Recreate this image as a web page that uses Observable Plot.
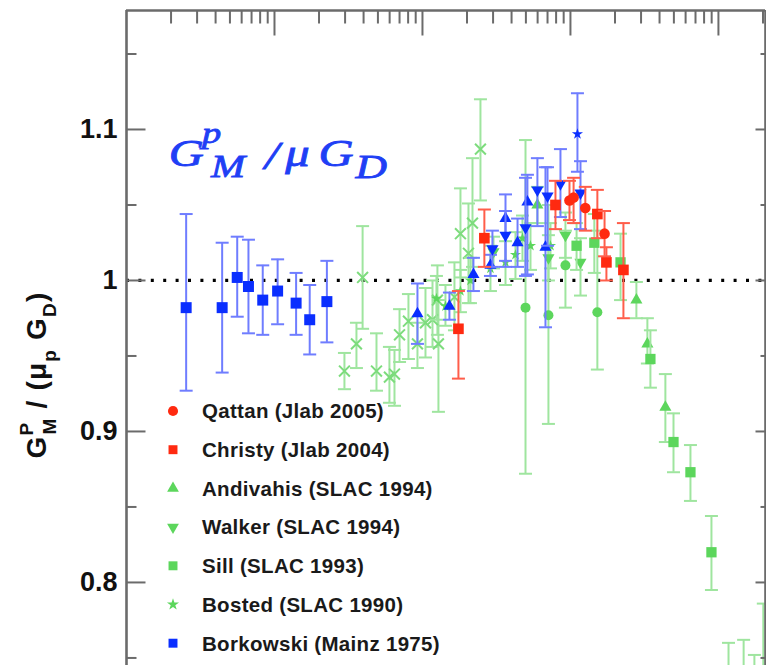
<!DOCTYPE html>
<html><head><meta charset="utf-8">
<script src="https://cdn.jsdelivr.net/npm/d3@7"></script>
<script src="https://cdn.jsdelivr.net/npm/@observablehq/plot@0.6"></script>
<style>
body{margin:0;background:#fff;}
#chart svg{display:block;overflow:hidden;}
</style></head><body><div id="chart"></div>
<script>
// ---- data: [Q2, ratio, low, high] ----
const qattan = [[9.85,1.053,1.040,1.066],[10.5,1.055,1.038,1.068],[12.6,1.048,1.033,1.062],[17.0,1.031,1.016,1.046]];
const christy = [[1.75,0.968,0.935,0.993],[2.62,1.028,1.009,1.047],[7.92,1.050,1.034,1.066],[15.2,1.044,1.028,1.060],[17.5,1.012,1.000,1.022],[22.8,1.007,0.975,1.038]];
const andivahis = [[5.98,1.050,1.038,1.062],[27.9,0.987,0.975,0.999],[33.1,0.958,0.945,0.975],[43.8,0.916,0.893,0.938]];
const walker = [[3.02,1.019,1.008,1.029],[7.10,1.015,1.000,1.030],[9.25,1.030,1.015,1.045],[11.69,1.012,0.990,1.028]];
const sill = [[11.0,1.023,1.007,1.038],[14.5,1.025,1.005,1.044],[21.8,1.012,0.987,1.031],[34.7,0.948,0.929,0.967],[49.7,0.893,0.873,0.912],[64.7,0.873,0.854,0.891],[89.7,0.820,0.795,0.844],[117,0.728,0.695,0.760],[148,0.725,0.689,0.762],[175,0.722,0.689,0.752],[201,0.735,0.682,0.786]];
const bosted = [[1.243,0.988,0.974,1.003],[1.43,0.983,0.970,0.997],[1.806,0.993,0.979,1.007],[2.11,1.000,0.985,1.015],[2.88,1.008,0.993,1.023],[3.64,1.012,0.997,1.026],[4.25,1.017,1.001,1.032],[4.74,1.028,1.013,1.043],[5.37,1.023,1.007,1.038],[7.33,1.023,1.008,1.038]];
const borkowski = [[0.0253,0.982,0.927,1.044],[0.0443,0.982,0.939,1.025],[0.0560,1.002,0.976,1.029],[0.0667,0.996,0.965,1.027],[0.0833,0.987,0.964,1.010],[0.105,0.993,0.971,1.014],[0.140,0.985,0.964,1.005],[0.173,0.974,0.951,0.997],[0.226,0.986,0.959,1.013]];
// unlabeled data sets
const greenCross = [[0.297,0.940,0.928,0.952],[0.358,0.958,0.942,0.972],[0.394,1.002,0.968,1.036],[0.489,0.940,0.927,0.965],[0.598,0.936,0.919,0.956],[0.647,0.938,0.917,0.954],[0.700,0.964,0.946,0.981],[0.804,0.973,0.948,0.991],[0.925,0.958,0.942,0.972],[1.048,0.972,0.949,0.995],[1.169,0.974,0.956,1.000],[1.262,0.987,0.964,1.010],[1.282,0.958,0.913,0.987],[1.645,0.989,0.967,1.012],[1.806,1.031,1.002,1.061],[2.046,1.018,0.985,1.051],[2.178,1.038,1.009,1.081],[2.465,1.087,1.053,1.120]];
const greenCircle = [[4.97,0.982,0.872,1.093],[7.10,0.977,0.905,1.050],[9.25,1.010,0.982,1.033],[15.2,0.979,0.941,1.033]];
const blueUp = [[0.925,0.978,0.958,0.998],[1.521,0.983,0.974,0.992],[2.21,1.004,0.993,1.015],[2.88,1.010,1.003,1.017],[3.64,1.041,1.009,1.057],[4.39,1.025,1.009,1.041],[5.12,1.052,1.004,1.070],[6.78,1.022,0.969,1.075]];
const blueDown = [[2.97,1.021,1.009,1.033],[3.64,1.030,1.013,1.046],[4.97,1.035,1.003,1.068],[5.98,1.060,1.036,1.081],[7.00,1.056,1.023,1.075],[8.56,1.064,1.042,1.087],[11.69,1.058,1.034,1.079]];
const blueStar = [[11.15,1.097,1.072,1.124]];

const xDomain = [0.01, 208];
const yDomain = [0.745, 1.1788];
const yTickLabels = [0.8, 0.9, 1, 1.1];
const yMinorTicks = [0.75, 0.85, 0.95, 1.05, 1.15];
const xMajorTicks = [0.1, 1, 10, 100];
const xMinorTicks = [0.01, 0.1, 1, 10, 100].flatMap(d => [2,3,4,5,6,7,8,9].map(k => +(k*d).toPrecision(2))).filter(v => v <= 208);

const legendItems = [
  ["Qattan (Jlab 2005)", "circle", "#ff2a10"],
  ["Christy (Jlab 2004)", "square", "#ff2a10"],
  ["Andivahis (SLAC 1994)", "triangle", "#5cd65c"],
  ["Walker (SLAC 1994)", "triangleDown", "#5cd65c"],
  ["Sill (SLAC 1993)", "square", "#5cd65c"],
  ["Bosted (SLAC 1990)", "star", "#5cd65c"],
  ["Borkowski (Mainz 1975)", "square", "#0a2eff"]
];

// ---- symbols ----
const cap = {draw(ctx, size){ const w = Math.sqrt(size/Math.PI); ctx.moveTo(-w,0); ctx.lineTo(w,0); }};
const flipY = sym => ({draw(ctx, size){ sym.draw({moveTo:(x,y)=>ctx.moveTo(x,-y), lineTo:(x,y)=>ctx.lineTo(x,-y), closePath:()=>ctx.closePath()}, size); }});
const triDown = flipY(d3.symbolTriangle);
const tickR = L => ({draw(ctx){ ctx.moveTo(0,0); ctx.lineTo(L,0); }});
const tickL = L => ({draw(ctx){ ctx.moveTo(0,0); ctx.lineTo(-L,0); }});
const tickD = L => ({draw(ctx){ ctx.moveTo(0,0); ctx.lineTo(0,L); }});

const GREEN = "#5cd65c", GREEN_E = "#9fe59f";
const BLUE = "#0a2eff", BLUE_E = "#6f7dff";
const RED = "#ff2a10", RED_E = "#ff5d4a";

function series(data, symbol, color, errColor, r, opts = {}) {
  const stroke = opts.strokeMarker;
  return [
    Plot.ruleX(data, {x: d => d[0], y1: d => d[2], y2: d => d[3], stroke: errColor, strokeWidth: 2, clip: true}),
    Plot.dot(data, {x: d => d[0], y: d => d[2], symbol: cap, r: 6.5, stroke: errColor, fill: "none", strokeWidth: 2, clip: true}),
    Plot.dot(data, {x: d => d[0], y: d => d[3], symbol: cap, r: 6.5, stroke: errColor, fill: "none", strokeWidth: 2, clip: true}),
    stroke
      ? Plot.dot(data, {x: d => d[0], y: d => d[1], symbol, r, stroke: color, fill: "none", strokeWidth: 2, clip: true})
      : Plot.dot(data, {x: d => d[0], y: d => d[1], symbol, r, fill: color, stroke: "none", clip: true})
  ];
}

const AX = "#6b6b6b";

const chart = Plot.plot({
  width: 766, height: 665,
  marginLeft: 126, marginTop: 10, marginRight: 1, marginBottom: 0,
  style: {fontFamily: "'Liberation Sans', Arial, sans-serif", background: "#fff"},
  x: {type: "log", domain: xDomain, axis: null},
  y: {domain: yDomain},
  marks: [
    Plot.ruleY([1], {stroke: "#000", strokeWidth: 3.2, strokeDasharray: "3,9.4"}),
    ...series(greenCross, "times", "#7ddc7d", GREEN_E, 5, {strokeMarker: true}),
    ...series(greenCircle, "circle", GREEN, GREEN_E, 5),
    ...series(bosted, "star", GREEN, GREEN_E, 3.5),
    ...series(walker, triDown, GREEN, GREEN_E, 4.5),
    ...series(andivahis, "triangle", GREEN, GREEN_E, 4.5),
    ...series(sill, "square", GREEN, GREEN_E, 5.8),
    ...series(borkowski, "square", BLUE, BLUE_E, 6.2),
    ...series(blueUp, "triangle", BLUE, BLUE_E, 4.5),
    ...series(blueDown, triDown, BLUE, BLUE_E, 4.5),
    ...series(blueStar, "star", BLUE, BLUE_E, 3.5),
    ...series(christy, "square", RED, RED_E, 6),
    ...series(qattan, "circle", RED, RED_E, 5.3),
    // frame lines
    Plot.ruleX([xDomain[0]], {stroke: AX, strokeWidth: 2.6}),
    Plot.ruleX([xDomain[1]], {stroke: AX, strokeWidth: 2.6}),
    Plot.ruleY([yDomain[1]], {stroke: AX, strokeWidth: 2.6}),
    // inward ticks
    Plot.dot(yTickLabels, {y: d => d, frameAnchor: "left", symbol: tickR(19), r: 1, stroke: AX, strokeWidth: 2, fill: "none"}),
    Plot.dot(yMinorTicks, {y: d => d, frameAnchor: "left", symbol: tickR(10), r: 1, stroke: AX, strokeWidth: 2, fill: "none"}),
    Plot.dot(yTickLabels, {y: d => d, frameAnchor: "right", symbol: tickL(10), r: 1, stroke: AX, strokeWidth: 2, fill: "none"}),
    Plot.dot(yMinorTicks, {y: d => d, frameAnchor: "right", symbol: tickL(5), r: 1, stroke: AX, strokeWidth: 2, fill: "none"}),
    Plot.dot(xMajorTicks, {x: d => d, frameAnchor: "top", symbol: tickD(25), r: 1, stroke: AX, strokeWidth: 2, fill: "none"}),
    Plot.dot(xMinorTicks, {x: d => d, frameAnchor: "top", symbol: tickD(13), r: 1, stroke: AX, strokeWidth: 2, fill: "none"}),
    Plot.axisY(yTickLabels, {tickSize: 0, tickPadding: 9, fontSize: 27, fontWeight: "bold", fill: "#111", label: null, tickFormat: d => String(d)})
  ]
});
document.getElementById("chart").append(chart);

// ---- in-plot annotations: legend, title, y label ----
const svg = d3.select(chart);
const symMap = {circle: [d3.symbolCircle, 80], square: [d3.symbolSquare, 80], triangle: [d3.symbolTriangle, 60], triangleDown: [triDown, 60], star: [d3.symbolStar, 45]};
const lg = svg.append("g").attr("text-anchor", "start").attr("font-family", "'Liberation Sans', Arial, sans-serif").attr("font-weight", "bold").attr("font-size", 20.5).attr("letter-spacing", 0.3).attr("fill", "#1a1a1a");
legendItems.forEach(([label, sym, color], i) => {
  const y = 411 + i * 38.7;
  const [s, size] = symMap[sym];
  lg.append("path").attr("d", d3.symbol(s, size)()).attr("transform", `translate(173,${y})`).attr("fill", color);
  lg.append("text").attr("x", 202).attr("y", y).attr("dy", "0.36em").text(label);
});

// title G^p_M / μ G_D (math italic), stretched horizontally like Computer Modern
const tg = svg.append("g").attr("transform", "translate(170,166) scale(1.28,1)")
  .attr("font-family", "'Liberation Serif', 'Times New Roman', serif").attr("font-style", "italic")
  .attr("fill", "#1f3ff5").attr("stroke", "#1f3ff5").attr("stroke-width", 0.8).attr("text-anchor", "start");
tg.append("text").attr("x", -1).attr("y", 0).attr("font-size", 38).text("G");
tg.append("text").attr("x", 25).attr("y", -23).attr("font-size", 30).text("p");
tg.append("text").attr("x", 32).attr("y", 11).attr("font-size", 32).text("M");
tg.append("text").attr("x", 74).attr("y", 3).attr("font-size", 40).text("/");
tg.append("text").attr("x", 90).attr("y", 0).attr("font-size", 38).text("μ");
tg.append("text").attr("x", 116).attr("y", 0).attr("font-size", 38).text("G");
tg.append("text").attr("x", 145).attr("y", 12).attr("font-size", 34).text("D");

const yl = svg.append("text").attr("transform", "translate(46,375) rotate(-90)").attr("text-anchor", "middle")
  .attr("font-family", "'Liberation Sans', Arial, sans-serif").attr("font-weight", "bold").attr("font-size", 28)
  .attr("letter-spacing", 1.2).attr("fill", "#111");
yl.append("tspan").text("G");
yl.append("tspan").attr("font-size", 19).attr("dy", -13).text("P");
yl.append("tspan").attr("font-size", 19).attr("dy", 23).attr("dx", -13).text("M");
yl.append("tspan").attr("dy", -10).text(" / (μ");
yl.append("tspan").attr("font-size", 19).attr("dy", 10).text("p");
yl.append("tspan").attr("dy", -10).text(" G");
yl.append("tspan").attr("font-size", 19).attr("dy", 10).text("D");
yl.append("tspan").attr("dy", -10).text(")");
</script></body></html>
